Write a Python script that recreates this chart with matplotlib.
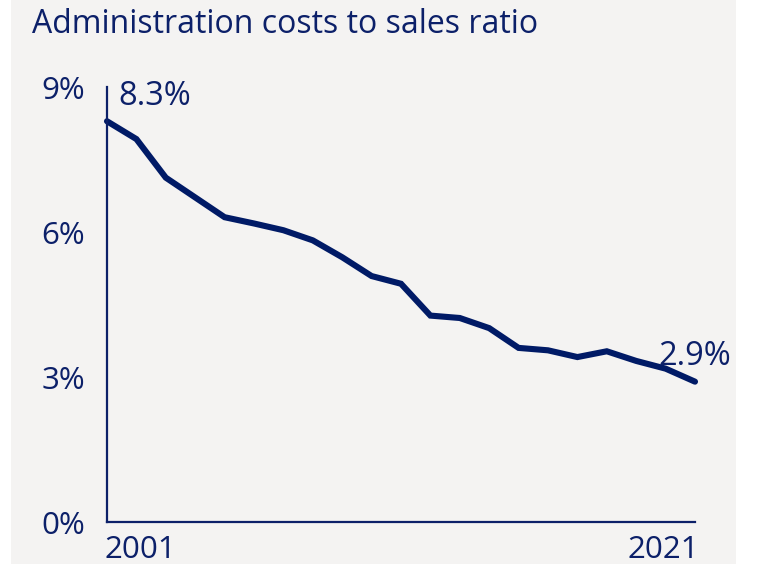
import matplotlib
matplotlib.use("Agg")
import matplotlib.pyplot as plt
import matplotlib.transforms as mtransforms
from matplotlib.patches import Rectangle

# data
years = list(range(2001, 2022))
ratio = [8.31, 7.94, 7.14, 6.73, 6.32, 6.19, 6.05, 5.84, 5.49, 5.10, 4.94,
         4.28, 4.23, 4.02, 3.61, 3.56, 3.42, 3.54, 3.34, 3.18, 2.91]
yticks = [0, 3, 6, 9]
ytick_labels = ["0%", "3%", "6%", "9%"]
xticks = [2001, 2021]

navy = "#0c2069"
line_col = "#001a66"
bg = "#f4f3f2"

plt.rcParams["font.family"] = ["Open Sans", "DejaVu Sans"]

fig = plt.figure(figsize=(7.59, 5.64), dpi=100, facecolor="white")
fig.patches.append(Rectangle((11 / 759, 0), 725 / 759, 1, transform=fig.transFigure,
                             facecolor=bg, edgecolor="none", zorder=-10))

ax = fig.add_axes([107 / 759, 42 / 564, 588 / 759, 435 / 564])
ax.patch.set_alpha(0)

ax.plot(years, ratio, color=line_col, lw=4.4, solid_joinstyle="miter",
        solid_capstyle="round", clip_on=False)

ax.set_xlim(2001, 2021)
ax.set_ylim(0, 9.02)

for s in ["top", "right"]:
    ax.spines[s].set_visible(False)
for s in ["left", "bottom"]:
    ax.spines[s].set_color(navy)
    ax.spines[s].set_linewidth(1.6)

ax.set_yticks(yticks)
ax.set_yticklabels(ytick_labels)
ax.set_xticks(xticks)
ax.set_xticklabels([str(x) for x in xticks])
ax.tick_params(axis="both", length=0, labelsize=22.5, labelcolor=navy)
ax.tick_params(axis="y", pad=16)
ax.tick_params(axis="x", pad=9)
xl = ax.get_xticklabels()
xl[0].set_ha("left")
xl[1].set_ha("right")
# nudge the year labels a few pixels, as in the original
for lab, dx in zip(xl, [-2, 4]):
    lab.set_transform(lab.get_transform() +
                      mtransforms.ScaledTranslation(dx / 100, 0, fig.dpi_scale_trans))

# end-point labels
ax.annotate(f"{ratio[0]:.1f}%", (years[0], ratio[0]), xytext=(8, 12),
            textcoords="offset points", ha="left", va="baseline",
            fontsize=23.5, color=navy, annotation_clip=False)
ax.annotate(f"{ratio[-1]:.1f}%", (years[-1], ratio[-1]), xytext=(26, 12),
            textcoords="offset points", ha="right", va="baseline",
            fontsize=23.5, color=navy, annotation_clip=False)

fig.text(32 / 759, 1 - 33 / 564, "Administration costs to sales ratio",
         fontsize=23, color=navy, ha="left", va="baseline")

fig.savefig("out.png", dpi=100, facecolor="white")
